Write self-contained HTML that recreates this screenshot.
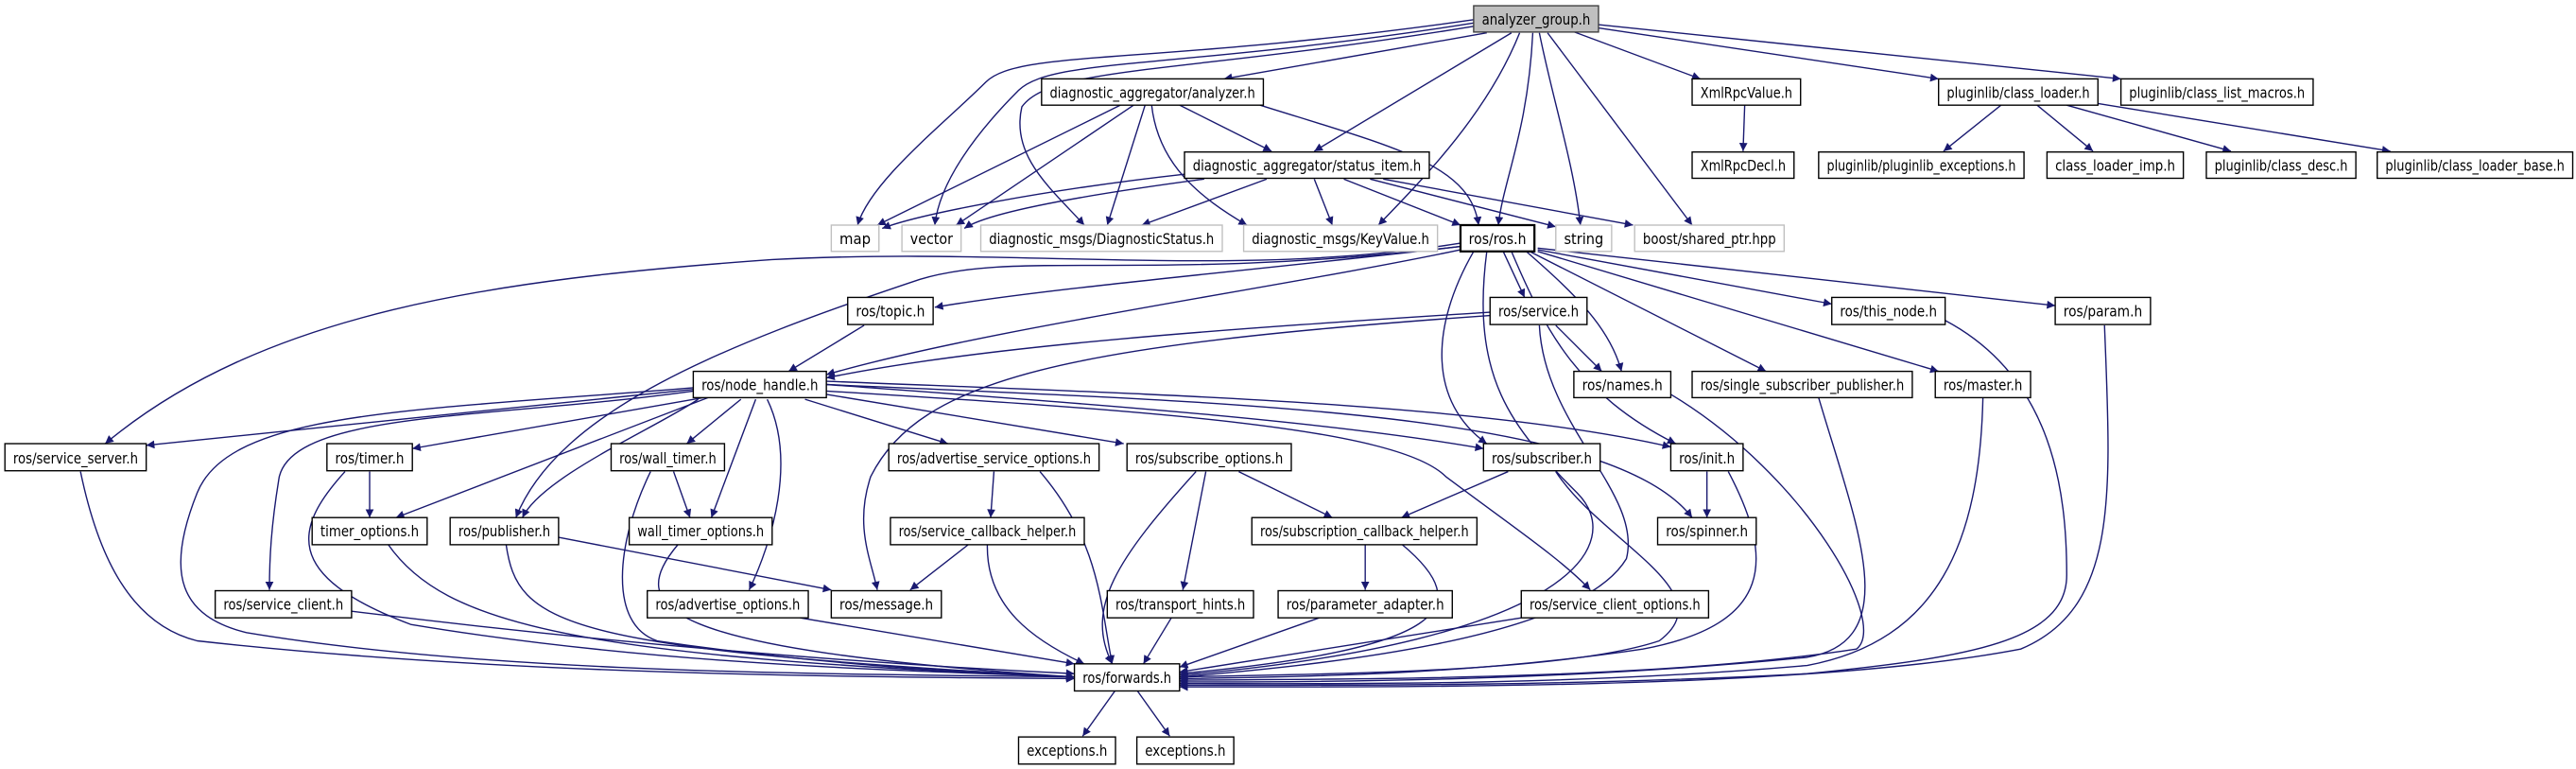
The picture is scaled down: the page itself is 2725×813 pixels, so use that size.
<!DOCTYPE html>
<html><head><meta charset="utf-8"><style>html,body{margin:0;padding:0;background:#fff;}svg{display:block}</style></head>
<body>
<svg xmlns="http://www.w3.org/2000/svg" width="2725" height="813" viewBox="0 0 1568 468" preserveAspectRatio="none">
<defs>
<marker id="a" viewBox="0 0 10 10" refX="10" refY="5" markerWidth="7" markerHeight="5" markerUnits="userSpaceOnUse" orient="auto">
<path d="M0,0 L10,5 L0,10 z" fill="#191970"/>
</marker>
</defs>
<g fill="none" stroke="#191970" stroke-width="0.8" marker-end="url(#a)">
<path d="M897,12 C700,40 620,30 600,50 C575,75 530,110 522,137"/>
<path d="M897,14 C720,42 640,35 620,55 C595,80 572,110 569,137"/>
<path d="M897,16 C720,45 640,40 622,65 C615,95 640,115 660,137"/>
<path d="M905,20 L745,48"/>
<path d="M920,20 L800,92"/>
<path d="M925,20 C905,70 865,110 839,137"/>
<path d="M933,20 C930,80 915,110 912,137"/>
<path d="M937,20 C945,60 958,100 962,137"/>
<path d="M942,20 L1030,137"/>
<path d="M957,19 L1035,48"/>
<path d="M973,17 L1180,48"/>
<path d="M973,15 L1291,48"/>
<path d="M682,64 L534,137"/>
<path d="M690,64 L582,137"/>
<path d="M697,64 L674,137"/>
<path d="M701,64 C705,100 730,120 759,137"/>
<path d="M718,64 L774,92"/>
<path d="M767,64 C850,90 895,100 900,137"/>
<path d="M721,106 C640,115 560,130 537,139"/>
<path d="M733,109 C650,120 600,130 587,139"/>
<path d="M771,109 L695,137"/>
<path d="M800,109 L811,137"/>
<path d="M818,109 L889,137"/>
<path d="M834,109 L947,138"/>
<path d="M842,109 L994,137"/>
<path d="M1062,64 L1061,92"/>
<path d="M1218,64 L1183,92"/>
<path d="M1240,64 L1274,92"/>
<path d="M1258,64 L1358,92"/>
<path d="M1277,63 L1455,92"/>
<path d="M889,150 C760,165 640,175 569,187"/>
<path d="M889,152 C780,175 600,200 503,228"/>
<path d="M889,148 C750,170 620,150 470,158 C300,170 160,190 64,270"/>
<path d="M889,150 C700,172 620,152 560,170 C440,210 340,250 314,315"/>
<path d="M915,153 L928,181"/>
<path d="M897,153 C870,200 870,245 905,270"/>
<path d="M929,153 C960,180 980,200 987,226"/>
<path d="M931,153 L1075,226"/>
<path d="M936,153 L1180,226"/>
<path d="M936,152 L1115,185"/>
<path d="M936,151 L1251,186"/>
<path d="M920,153 C940,200 960,240 1020,270"/>
<path d="M905,153 C895,230 920,260 960,300 C990,330 960,390 718,411"/>
<path d="M907,190 C750,200 600,210 503,230"/>
<path d="M907,192 C650,210 560,230 530,290 C520,320 530,340 534,359"/>
<path d="M947,198 L975,226"/>
<path d="M937,198 C940,260 1000,300 990,340 C960,390 800,405 718,412"/>
<path d="M526,198 L480,226"/>
<path d="M422,237 L89,271"/>
<path d="M428,242 L251,273"/>
<path d="M431,242 L241,315"/>
<path d="M425,243 C400,260 330,290 318,315"/>
<path d="M451,243 L418,270"/>
<path d="M460,243 L433,315"/>
<path d="M467,243 C485,280 470,330 456,359"/>
<path d="M490,243 L577,270"/>
<path d="M503,240 L684,270"/>
<path d="M503,234 C650,245 800,255 903,273"/>
<path d="M503,232 C700,240 900,245 1017,272"/>
<path d="M503,234 C750,245 980,250 1030,315"/>
<path d="M503,238 C700,250 850,260 880,290 C920,320 950,340 968,359"/>
<path d="M422,238 C300,255 180,250 170,290 C165,320 164,340 164,359"/>
<path d="M422,236 C250,250 140,250 120,300 C100,350 110,375 150,385 C300,410 500,410 654,412"/>
<path d="M49,287 C60,340 80,380 120,390 C300,410 500,412 654,413"/>
<path d="M225,287 L225,315"/>
<path d="M210,287 C180,320 170,350 250,380 C400,405 550,408 654,412"/>
<path d="M410,287 L420,315"/>
<path d="M396,287 C375,330 370,380 400,390 C500,405 600,410 654,412"/>
<path d="M236,331 C270,380 350,400 654,412"/>
<path d="M340,327 L506,359"/>
<path d="M308,331 C315,380 340,395 654,412"/>
<path d="M413,331 C380,370 400,395 654,412"/>
<path d="M605,287 L603,315"/>
<path d="M633,287 C670,330 670,370 677,404"/>
<path d="M590,331 L554,359"/>
<path d="M601,331 C600,370 630,390 660,404"/>
<path d="M754,287 L811,315"/>
<path d="M734,287 L720,359"/>
<path d="M728,287 C680,340 660,370 677,404"/>
<path d="M918,287 L853,315"/>
<path d="M947,287 C975,330 1050,360 1010,390 C950,410 800,410 718,412"/>
<path d="M1039,287 L1039,315"/>
<path d="M1052,287 C1080,340 1080,380 1000,395 C900,410 800,412 718,413"/>
<path d="M831,331 L831,359"/>
<path d="M853,331 C900,370 880,395 718,410"/>
<path d="M214,372 C400,395 550,405 654,410"/>
<path d="M487,376 L654,404"/>
<path d="M713,376 L696,404"/>
<path d="M803,376 L718,406"/>
<path d="M926,376 L718,409"/>
<path d="M1017,240 C1100,290 1150,380 1130,395 C1000,415 800,413 718,414"/>
<path d="M1107,242 C1130,320 1160,390 1100,400 C950,415 800,415 718,415"/>
<path d="M1207,242 C1205,330 1180,390 1100,405 C950,418 800,416 718,416"/>
<path d="M1184,195 C1250,230 1258,300 1258,350 C1258,390 1200,400 1100,410 C950,418 800,417 718,417"/>
<path d="M1281,198 C1285,300 1290,370 1230,395 C1100,420 850,418 718,418"/>
<path d="M679,420 L659,448"/>
<path d="M692,420 L712,448"/>
</g>
<g font-family="DejaVu Sans, Liberation Sans, sans-serif" font-size="9" text-anchor="middle" fill="#000" stroke-width="0.8" lengthAdjust="spacingAndGlyphs">
<rect x="897" y="3.5" width="76" height="16" fill="#bfbfbf" stroke="#404040"/><text x="935" y="15" textLength="66" lengthAdjust="spacingAndGlyphs">analyzer_group.h</text>
<rect x="634" y="48" width="135" height="16" fill="#fff" stroke="#000"/><text x="701.5" y="59.5" textLength="125" lengthAdjust="spacingAndGlyphs">diagnostic_aggregator/analyzer.h</text>
<rect x="1030" y="48" width="66" height="16" fill="#fff" stroke="#000"/><text x="1063" y="59.5" textLength="56" lengthAdjust="spacingAndGlyphs">XmlRpcValue.h</text>
<rect x="1180" y="48" width="97" height="16" fill="#fff" stroke="#000"/><text x="1228.5" y="59.5" textLength="87" lengthAdjust="spacingAndGlyphs">pluginlib/class_loader.h</text>
<rect x="1291" y="48" width="117" height="16" fill="#fff" stroke="#000"/><text x="1349.5" y="59.5" textLength="107" lengthAdjust="spacingAndGlyphs">pluginlib/class_list_macros.h</text>
<rect x="721" y="92.5" width="149" height="16" fill="#fff" stroke="#000"/><text x="795.5" y="104" textLength="139" lengthAdjust="spacingAndGlyphs">diagnostic_aggregator/status_item.h</text>
<rect x="1030" y="92.5" width="62" height="16" fill="#fff" stroke="#000"/><text x="1061" y="104" textLength="52" lengthAdjust="spacingAndGlyphs">XmlRpcDecl.h</text>
<rect x="1107" y="92.5" width="125" height="16" fill="#fff" stroke="#000"/><text x="1169.5" y="104" textLength="115" lengthAdjust="spacingAndGlyphs">pluginlib/pluginlib_exceptions.h</text>
<rect x="1246" y="92.5" width="83" height="16" fill="#fff" stroke="#000"/><text x="1287.5" y="104" textLength="73" lengthAdjust="spacingAndGlyphs">class_loader_imp.h</text>
<rect x="1343" y="92.5" width="91" height="16" fill="#fff" stroke="#000"/><text x="1388.5" y="104" textLength="81" lengthAdjust="spacingAndGlyphs">pluginlib/class_desc.h</text>
<rect x="1447" y="92.5" width="119" height="16" fill="#fff" stroke="#000"/><text x="1506.5" y="104" textLength="109" lengthAdjust="spacingAndGlyphs">pluginlib/class_loader_base.h</text>
<rect x="506" y="137" width="29" height="16" fill="#fff" stroke="#bfbfbf"/><text x="520.5" y="148.5" textLength="19" lengthAdjust="spacingAndGlyphs">map</text>
<rect x="549" y="137" width="36" height="16" fill="#fff" stroke="#bfbfbf"/><text x="567" y="148.5" textLength="26" lengthAdjust="spacingAndGlyphs">vector</text>
<rect x="597" y="137" width="147" height="16" fill="#fff" stroke="#bfbfbf"/><text x="670.5" y="148.5" textLength="137" lengthAdjust="spacingAndGlyphs">diagnostic_msgs/DiagnosticStatus.h</text>
<rect x="757" y="137" width="118" height="16" fill="#fff" stroke="#bfbfbf"/><text x="816" y="148.5" textLength="108" lengthAdjust="spacingAndGlyphs">diagnostic_msgs/KeyValue.h</text>
<rect x="889" y="137" width="45" height="16" fill="#fff" stroke="#000" stroke-width="1.3"/><text x="911.5" y="148.5" textLength="35" lengthAdjust="spacingAndGlyphs">ros/ros.h</text>
<rect x="947" y="137" width="34" height="16" fill="#fff" stroke="#bfbfbf"/><text x="964" y="148.5" textLength="24" lengthAdjust="spacingAndGlyphs">string</text>
<rect x="995" y="137" width="91" height="16" fill="#fff" stroke="#bfbfbf"/><text x="1040.5" y="148.5" textLength="81" lengthAdjust="spacingAndGlyphs">boost/shared_ptr.hpp</text>
<rect x="516" y="181" width="52" height="16.5" fill="#fff" stroke="#000"/><text x="542" y="192.5" textLength="42" lengthAdjust="spacingAndGlyphs">ros/topic.h</text>
<rect x="907" y="181" width="59" height="16.5" fill="#fff" stroke="#000"/><text x="936.5" y="192.5" textLength="49" lengthAdjust="spacingAndGlyphs">ros/service.h</text>
<rect x="1115" y="181" width="69" height="16.5" fill="#fff" stroke="#000"/><text x="1149.5" y="192.5" textLength="59" lengthAdjust="spacingAndGlyphs">ros/this_node.h</text>
<rect x="1251" y="181" width="58" height="16.5" fill="#fff" stroke="#000"/><text x="1280" y="192.5" textLength="48" lengthAdjust="spacingAndGlyphs">ros/param.h</text>
<rect x="422" y="226" width="81" height="16" fill="#fff" stroke="#000"/><text x="462.5" y="237.5" textLength="71" lengthAdjust="spacingAndGlyphs">ros/node_handle.h</text>
<rect x="958" y="226" width="59" height="16" fill="#fff" stroke="#000"/><text x="987.5" y="237.5" textLength="49" lengthAdjust="spacingAndGlyphs">ros/names.h</text>
<rect x="1030" y="226" width="134" height="16" fill="#fff" stroke="#000"/><text x="1097" y="237.5" textLength="124" lengthAdjust="spacingAndGlyphs">ros/single_subscriber_publisher.h</text>
<rect x="1178" y="226" width="58" height="16" fill="#fff" stroke="#000"/><text x="1207" y="237.5" textLength="48" lengthAdjust="spacingAndGlyphs">ros/master.h</text>
<rect x="3" y="270" width="86" height="16.5" fill="#fff" stroke="#000"/><text x="46" y="282" textLength="76" lengthAdjust="spacingAndGlyphs">ros/service_server.h</text>
<rect x="199" y="270" width="52" height="16.5" fill="#fff" stroke="#000"/><text x="225" y="282" textLength="42" lengthAdjust="spacingAndGlyphs">ros/timer.h</text>
<rect x="372" y="270" width="69" height="16.5" fill="#fff" stroke="#000"/><text x="406.5" y="282" textLength="59" lengthAdjust="spacingAndGlyphs">ros/wall_timer.h</text>
<rect x="541" y="270" width="128" height="16.5" fill="#fff" stroke="#000"/><text x="605" y="282" textLength="118" lengthAdjust="spacingAndGlyphs">ros/advertise_service_options.h</text>
<rect x="686" y="270" width="100" height="16.5" fill="#fff" stroke="#000"/><text x="736" y="282" textLength="90" lengthAdjust="spacingAndGlyphs">ros/subscribe_options.h</text>
<rect x="903" y="270" width="71" height="16.5" fill="#fff" stroke="#000"/><text x="938.5" y="282" textLength="61" lengthAdjust="spacingAndGlyphs">ros/subscriber.h</text>
<rect x="1017" y="270" width="44" height="16.5" fill="#fff" stroke="#000"/><text x="1039" y="282" textLength="34" lengthAdjust="spacingAndGlyphs">ros/init.h</text>
<rect x="190" y="315" width="70" height="16.5" fill="#fff" stroke="#000"/><text x="225" y="326.5" textLength="60" lengthAdjust="spacingAndGlyphs">timer_options.h</text>
<rect x="274" y="315" width="66" height="16.5" fill="#fff" stroke="#000"/><text x="307" y="326.5" textLength="56" lengthAdjust="spacingAndGlyphs">ros/publisher.h</text>
<rect x="383" y="315" width="87" height="16.5" fill="#fff" stroke="#000"/><text x="426.5" y="326.5" textLength="77" lengthAdjust="spacingAndGlyphs">wall_timer_options.h</text>
<rect x="542" y="315" width="118" height="16.5" fill="#fff" stroke="#000"/><text x="601" y="326.5" textLength="108" lengthAdjust="spacingAndGlyphs">ros/service_callback_helper.h</text>
<rect x="762" y="315" width="137" height="16.5" fill="#fff" stroke="#000"/><text x="830.5" y="326.5" textLength="127" lengthAdjust="spacingAndGlyphs">ros/subscription_callback_helper.h</text>
<rect x="1009" y="315" width="60" height="16.5" fill="#fff" stroke="#000"/><text x="1039" y="326.5" textLength="50" lengthAdjust="spacingAndGlyphs">ros/spinner.h</text>
<rect x="131" y="359.5" width="83" height="16.5" fill="#fff" stroke="#000"/><text x="172.5" y="371" textLength="73" lengthAdjust="spacingAndGlyphs">ros/service_client.h</text>
<rect x="394" y="359.5" width="98" height="16.5" fill="#fff" stroke="#000"/><text x="443" y="371" textLength="88" lengthAdjust="spacingAndGlyphs">ros/advertise_options.h</text>
<rect x="506" y="359.5" width="67" height="16.5" fill="#fff" stroke="#000"/><text x="539.5" y="371" textLength="57" lengthAdjust="spacingAndGlyphs">ros/message.h</text>
<rect x="674" y="359.5" width="89" height="16.5" fill="#fff" stroke="#000"/><text x="718.5" y="371" textLength="79" lengthAdjust="spacingAndGlyphs">ros/transport_hints.h</text>
<rect x="778" y="359.5" width="106" height="16.5" fill="#fff" stroke="#000"/><text x="831" y="371" textLength="96" lengthAdjust="spacingAndGlyphs">ros/parameter_adapter.h</text>
<rect x="926" y="359.5" width="114" height="16.5" fill="#fff" stroke="#000"/><text x="983" y="371" textLength="104" lengthAdjust="spacingAndGlyphs">ros/service_client_options.h</text>
<rect x="654" y="404" width="64" height="16.5" fill="#fff" stroke="#000"/><text x="686" y="415.5" textLength="54" lengthAdjust="spacingAndGlyphs">ros/forwards.h</text>
<rect x="620" y="448.5" width="59" height="16.5" fill="#fff" stroke="#000"/><text x="649.5" y="460" textLength="49" lengthAdjust="spacingAndGlyphs">exceptions.h</text>
<rect x="692" y="448.5" width="59" height="16.5" fill="#fff" stroke="#000"/><text x="721.5" y="460" textLength="49" lengthAdjust="spacingAndGlyphs">exceptions.h</text>
</g>
</svg>
</body></html>
